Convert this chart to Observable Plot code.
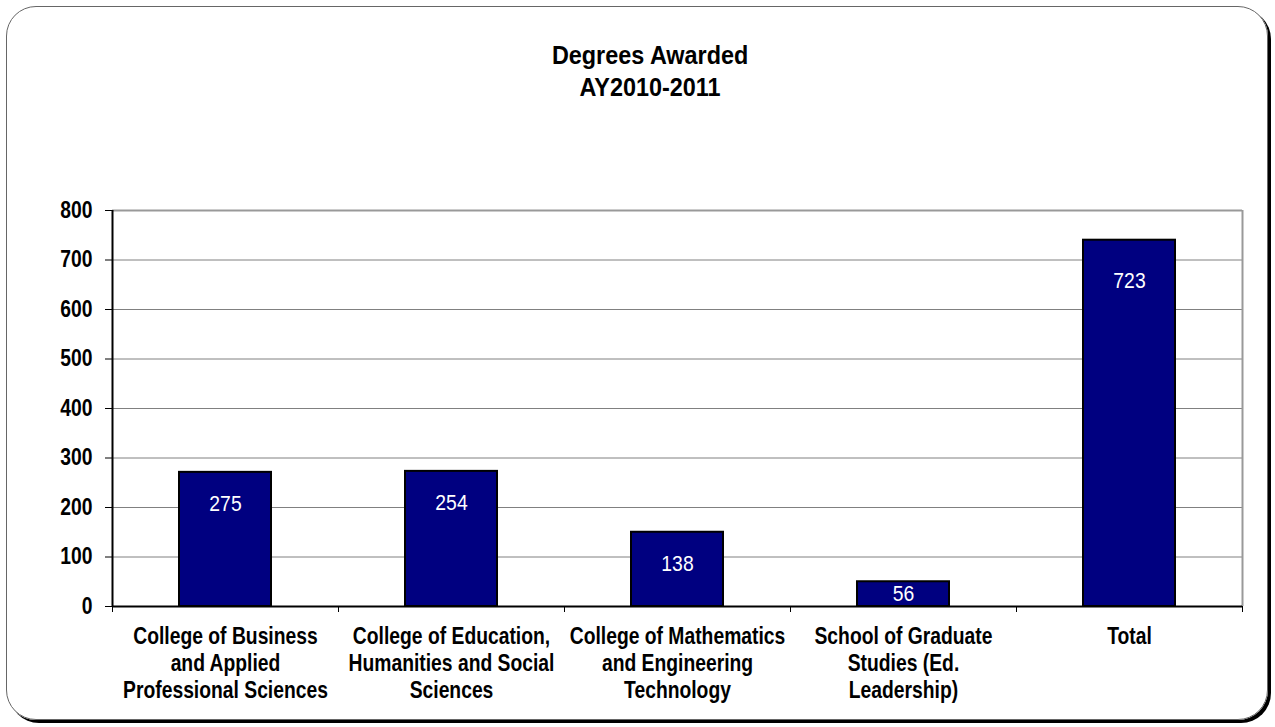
<!DOCTYPE html>
<html>
<head>
<meta charset="utf-8">
<script src="https://cdn.jsdelivr.net/npm/d3@7"></script>
<script src="https://cdn.jsdelivr.net/npm/@observablehq/plot@0.6"></script>
<style>
  html, body { margin: 0; padding: 0; background: #fff; }
  #wrap { position: relative; width: 1275px; height: 727px; overflow: hidden;
    font-family: "Liberation Sans", Arial, sans-serif; }
  #frame { position: absolute; left: 6px; top: 6px; width: 1262px; height: 714px;
    border: 1px solid #666; border-radius: 30px; box-shadow: 3px 3px 0 #000; box-sizing: border-box; }
  #title { position: absolute; left: 0; top: 39px; width: 1300px; text-align: center;
    font-weight: bold; font-size: 26px; line-height: 32px; color: #000; }
  #title span { display: inline-block; transform: scaleX(0.9); transform-origin: center; }
  #chart { position: absolute; left: 0; top: 110px; }
</style>
</head>
<body>
<div id="wrap">
  <div id="frame"></div>
  <div id="title"><span>Degrees Awarded<br>AY2010-2011</span></div>
  <div id="chart"></div>
</div>
<script>
const categories = [
  "College of Business\nand Applied\nProfessional Sciences",
  "College of Education,\nHumanities and Social\nSciences",
  "College of Mathematics\nand Engineering\nTechnology",
  "School of Graduate\nStudies (Ed.\nLeadership)",
  "Total"
];
const barValues = [271, 273, 150, 50, 740];
const labelTexts = ["275", "254", "138", "56", "723"];
const yTicks = [0, 100, 200, 300, 400, 500, 600, 700, 800];

const data = categories.map((c, i) => ({i, category: c, value: barValues[i], label: labelTexts[i]}));

const plot = Plot.plot({
  width: 1275,
  height: 617,
  marginTop: 100,
  marginBottom: 121,
  marginLeft: 112,
  marginRight: 33,
  style: {fontFamily: '"Liberation Sans", Arial, sans-serif', background: "transparent", overflow: "visible"},
  x: {type: "linear", domain: [0, categories.length]},
  y: {domain: [0, 800]},
  marks: [
    Plot.ruleY(yTicks.filter(d => d > 0 && d < 800), {stroke: "#808080", strokeWidth: 1}),
    Plot.ruleY([800], {stroke: "#999", strokeWidth: 2}),
    Plot.ruleX([categories.length], {stroke: "#999", strokeWidth: 2}),
    Plot.rectY(data, {x1: d => d.i, x2: d => d.i + 1, y: "value", insetLeft: 67, insetRight: 67,
      fill: "#000080", stroke: "#000", strokeWidth: 2}),
    Plot.text(data.filter(d => d.value >= 100 && d.value < 700), {x: d => d.i + 0.5, y: "value", text: "label", dy: 32,
      fill: "#fff", fontSize: 22, className: "lbl"}),
    Plot.text(data.filter(d => d.value >= 700), {x: d => d.i + 0.5, y: "value", text: "label", dy: 41,
      fill: "#fff", fontSize: 22, className: "lbl"}),
    Plot.text(data.filter(d => d.value < 100), {x: d => d.i + 0.5, y: d => d.value / 2, text: "label",
      fill: "#fff", fontSize: 22, className: "lbl"}),
    Plot.axisY({ticks: yTicks, tickSize: 7, tickPadding: 13, fontSize: 23, fontWeight: "bold",
      color: "#000", label: null, tickFormat: d => String(d)}),
    Plot.axisX({ticks: d3.range(0, categories.length + 1), tickSize: 6, tickFormat: () => "",
      label: null, stroke: "#000"}),
    Plot.axisX({ticks: d3.range(categories.length).map(i => i + 0.5), tickSize: 0, tickPadding: 18,
      tickFormat: d => categories[Math.floor(d)], fontSize: 23, fontWeight: "bold", lineHeight: 1.18,
      color: "#000", label: null}),
    Plot.ruleX([0], {stroke: "#000", strokeWidth: 2}),
    Plot.ruleY([0], {stroke: "#000", strokeWidth: 2})
  ]
});
document.getElementById("chart").appendChild(plot);

// narrow the glyphs (Arial Narrow look) about each label's own anchor point
plot.querySelectorAll("text").forEach(t => {
  const isLbl = !!t.closest(".lbl");
  const s = isLbl ? 0.88 : 0.84;
  const tr = t.getAttribute("transform");
  if (tr) {
    t.setAttribute("transform", `${tr} scale(${s},1)`);
  } else {
    const x = +(t.getAttribute("x") || 0);
    t.setAttribute("transform", `translate(${x},0) scale(${s},1)`);
    t.setAttribute("x", 0);
  }
});
</script>
</body>
</html>
